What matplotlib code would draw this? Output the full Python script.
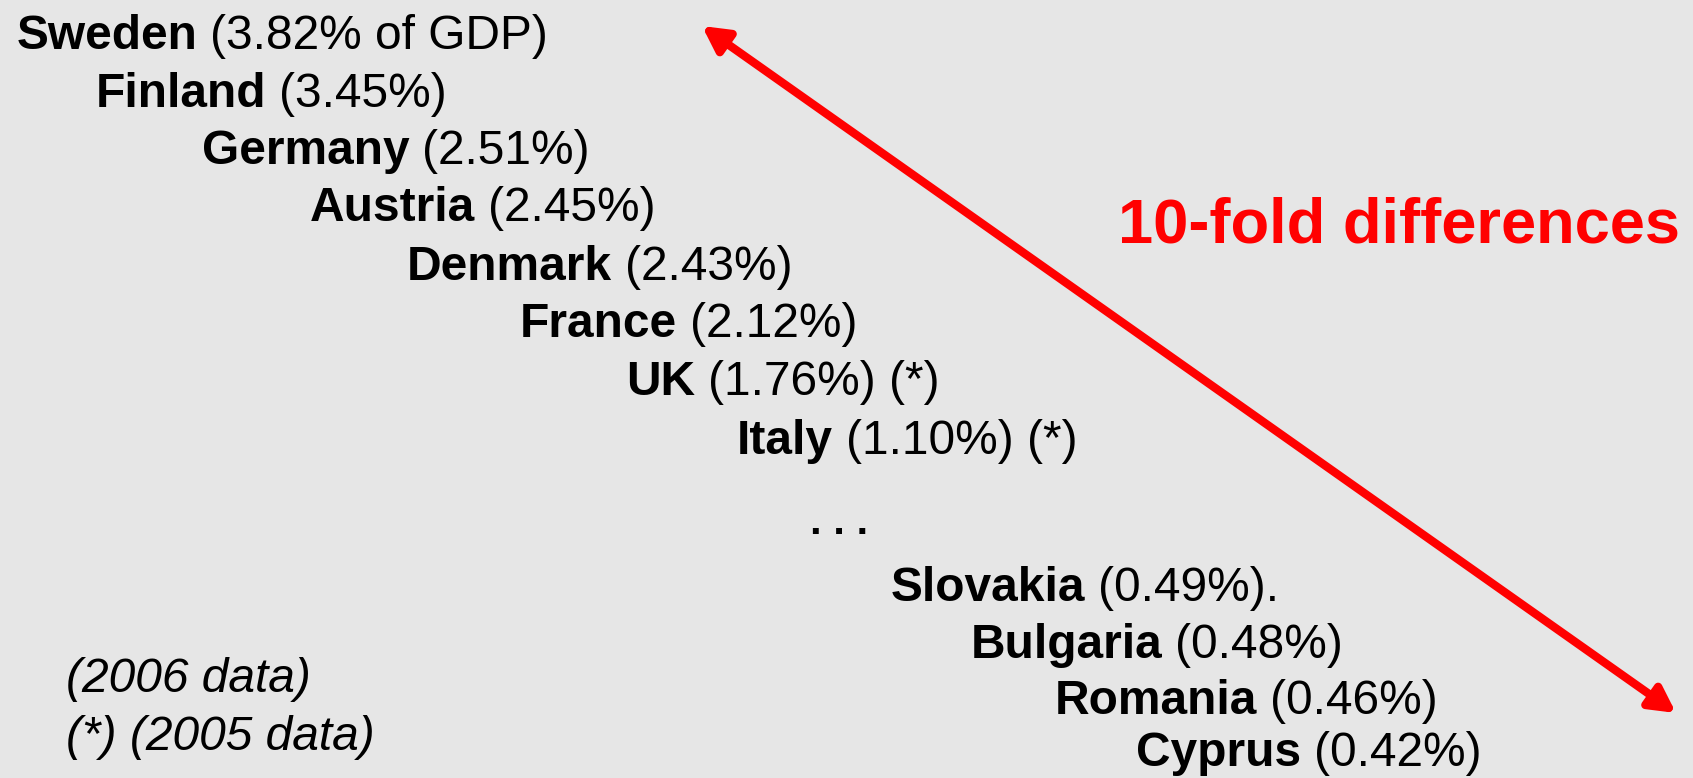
import matplotlib
matplotlib.use("Agg")
import matplotlib.pyplot as plt
from matplotlib.patches import FancyArrowPatch

plt.rcParams['font.family'] = ['Liberation Sans', 'DejaVu Sans']

# R&D spending, % of GDP
countries = ["Sweden", "Finland", "Germany", "Austria", "Denmark", "France",
             "UK", "Italy", "Slovakia", "Bulgaria", "Romania", "Cyprus"]
values = [3.82, 3.45, 2.51, 2.45, 2.43, 2.12, 1.76, 1.10, 0.49, 0.48, 0.46, 0.42]
suffix = [" of GDP)", ")", ")", ")", ")", ")", ") (*)", ") (*)", ").", ")", ")", ")"]
notes = ["(2006 data)", "(*) (2005 data)"]
callout = "10-fold differences"

# layout (pixels, origin top-left)
W, H = 1693, 778
xpos = [17, 96, 202, 310, 407, 520, 626, 737, 891, 971, 1055, 1136]
ybase = [49, 107, 164, 221, 280, 337, 395, 454, 601, 658, 714, 766]
bg = "#e6e6e6"
fs = 34.5

fig = plt.figure(figsize=(W / 100, H / 100), dpi=100, facecolor=bg)
ax = fig.add_axes([0, 0, 1, 1])
ax.set_xlim(0, W)
ax.set_ylim(H, 0)
ax.axis("off")
ax.set_facecolor(bg)

for c, v, s, x, y in zip(countries, values, suffix, xpos, ybase):
    t = ax.text(x, y, c, fontsize=fs, fontweight="bold", va="baseline", ha="left")
    ax.annotate("(%.2f%%%s" % (v, s), xy=(1, 0), xycoords=t,
                xytext=(9, 0), textcoords="offset points",
                fontsize=fs, va="bottom", ha="left")

ax.text(810, 534, ". . .", fontsize=30, fontweight="bold", va="baseline", ha="left")

ax.text(66, 692, notes[0], fontsize=fs, style="italic", va="baseline")
ax.text(66, 750, notes[1], fontsize=fs, style="italic", va="baseline")

ax.text(1118, 242, callout, fontsize=45.5, fontweight="bold", color="red",
        va="baseline", ha="left")

arr = FancyArrowPatch((702, 26), (1676, 713), arrowstyle="<|-|>,head_length=0.75,head_width=0.4",
                      mutation_scale=20, lw=6, color="red", shrinkA=0, shrinkB=0)
ax.add_patch(arr)

fig.savefig("out.png", dpi=100, facecolor=bg)
